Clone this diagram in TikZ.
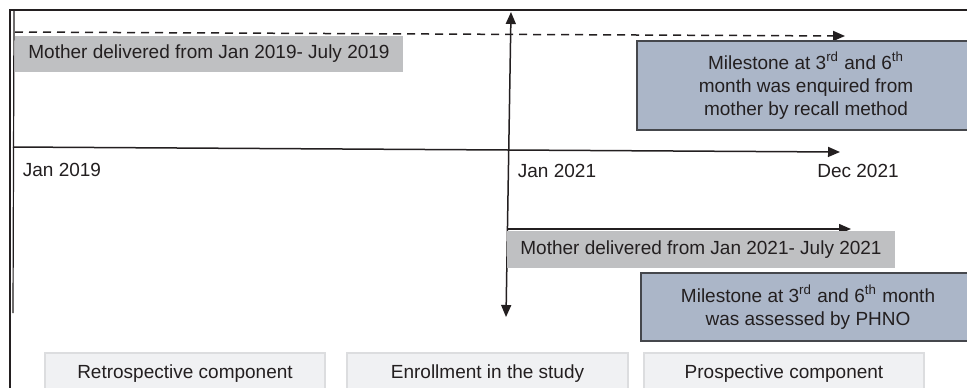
\documentclass[tikz,border=0pt]{standalone}
\usepackage{fontspec}
\setmainfont{Liberation Sans}
\usetikzlibrary{arrows.meta}
\definecolor{ink}{HTML}{231F20}
\definecolor{greybox}{HTML}{BFC0C2}
\definecolor{bluebox}{HTML}{ABB6C8}
\definecolor{blueedge}{HTML}{45474C}
\definecolor{lightbox}{HTML}{F0F1F3}
\definecolor{lightedge}{HTML}{DCDDDF}
\tikzset{
  every node/.style={font=\fontsize{9.5}{11.5}\selectfont, text=ink, inner sep=0pt},
  line/.style={draw=ink, line width=0.75pt},
  arr/.style={line, -{Triangle[length=6pt,width=5pt]}},
  darr/.style={line, {Triangle[length=6pt,width=5pt]}-{Triangle[length=6pt,width=5pt]}},
  dasharr/.style={arr, dash pattern=on 4pt off 3pt},
  greyrect/.style={rectangle, fill=greybox, align=center},
  bluerect/.style={rectangle, fill=bluebox, draw=blueedge, line width=0.75pt, align=center},
  lightrect/.style={rectangle, fill=lightbox, draw=lightedge, line width=0.75pt, align=center}
}
\begin{document}
\begin{tikzpicture}[x=0.5pt, y=-0.5pt]
\useasboundingbox (0,0) rectangle (967,387);
\clip (0,0) rectangle (967,387);
\fill[white] (0,0) rectangle (967,387);
% frame
\coordinate (ftl) at (10,10);
\coordinate (ftr) at (970,10);
\coordinate (fbl) at (10,390);
\draw[line, line width=0.6pt] (ftr) -- (ftl) -- (fbl);
\coordinate (itop) at (14,10);
\coordinate (ibot) at (13,313);
\draw[line, line width=0.6pt] (itop) -- (ibot);
% dashed arrow
\coordinate (ds) at (15,32);
\coordinate (de) at (845,36);
\draw[dasharr] (ds) -- (de);
% grey box 1
\node[greyrect, minimum width=194pt, minimum height=18pt] (g1) at (209,54) {Mother delivered from Jan 2019- July 2019};
% blue box 1
\node[bluerect, minimum width=169pt, minimum height=44.5pt] (b1) at (806,85.5) {Milestone at 3\textsuperscript{rd} and 6\textsuperscript{th}\\month was enquired from\\mother by recall method};
% main axis
\coordinate (as) at (13,147);
\coordinate (ae) at (840,152);
\draw[arr] (as) -- (ae);
\node (l1) at (62,170) {Jan 2019};
\node (l2) at (557,171) {Jan 2021};
\node (l3) at (858,171) {Dec 2021};
% vertical enrollment arrow
\coordinate (vt) at (511,12);
\coordinate (vb) at (506,317);
\draw[darr] (vb) -- (vt);
% lower arrow
\coordinate (hs) at (507,229);
\coordinate (he) at (851,229);
\draw[arr] (hs) -- (he);
% grey box 2
\node[greyrect, minimum width=194pt, minimum height=18.5pt] (g2) at (701,249.5) {Mother delivered from Jan 2021- July 2021};
% blue box 2
\node[bluerect, minimum width=167pt, minimum height=34pt] (b2) at (808,307) {Milestone at 3\textsuperscript{rd} and 6\textsuperscript{th} month\\was assessed by PHNO};
% bottom boxes
\node[lightrect, minimum width=140pt, minimum height=21pt] (r1) at (185,374) {Retrospective component};
\node[lightrect, minimum width=140.5pt, minimum height=21pt] (r2) at (487.5,374) {Enrollment in the study};
\node[lightrect, minimum width=140pt, minimum height=21pt] (r3) at (784,374) {Prospective component};
\end{tikzpicture}
\end{document}
